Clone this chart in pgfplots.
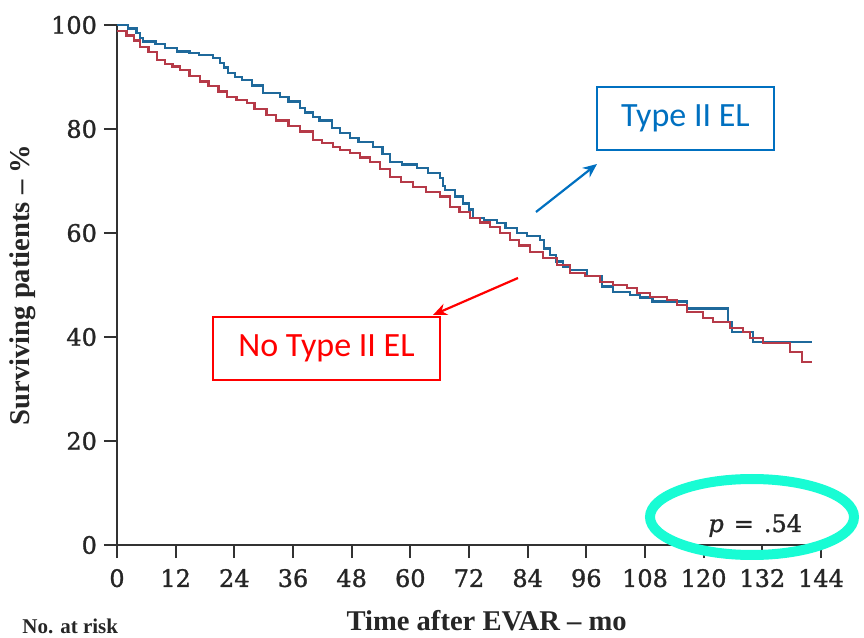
\documentclass[border=0pt]{standalone}
\usepackage{pgfplots}
\pgfplotsset{compat=1.18}
\usetikzlibrary{arrows.meta}
\usepackage{fontspec}
\setmainfont{Liberation Serif}
\newfontfamily\tickfont[FakeBold=1.2]{DejaVu Serif}
\newfontfamily\calibri{Carlito}
\definecolor{kmblue}{RGB}{31,105,155}
\definecolor{kmred}{RGB}{182,58,72}
\definecolor{annblue}{RGB}{0,112,192}
\definecolor{aquaring}{RGB}{24,252,212}
\definecolor{axisgray}{RGB}{50,50,50}

\begin{document}
\begin{tikzpicture}
\begin{axis}[
  scale only axis, width=352pt, height=260pt,
  at={(0pt,0pt)}, anchor=origin,
  xmin=0, xmax=144, ymin=0, ymax=100,
  axis lines=left,
  axis line style={-, line width=0.9pt, color=axisgray},
  xtick={0,12,...,144}, ytick={0,20,...,100},
  tick align=outside, major tick length=6.5pt,
  tick style={line width=0.9pt, color=axisgray},
  ticklabel style={font=\tickfont\fontsize{12}{13}\selectfont, text=black!85},
  xticklabel style={yshift=-2pt},
  /pgf/number format/assume math mode=true,
  xlabel={\bfseries Time after EVAR – mo},
  ylabel={\bfseries Surviving patients – \%},
  label style={font=\fontsize{14.3}{15}\selectfont, text=black!85},
  xlabel style={at={(axis description cs:0.525,0)}, anchor=base, yshift=-42.5pt},
  ylabel style={at={(axis description cs:-0.1335,0.5)}, anchor=center},
  clip=false,
]
% Type II EL
\addplot[const plot, kmblue, line width=1.2pt] coordinates {
(0,100) (2.27,99.3) (3.95,98.5) (4.74,97.5) (5.33,96.8) (7.90,96.3) (9.87,95.6)
(12.24,94.9) (14.81,94.6) (16.78,94.2) (19.64,93.7) (21.03,92.7) (21.91,91.8)
(22.70,90.8) (24.18,90.0) (25.57,89.4) (27.64,88.4) (29.91,86.9) (33.36,86.2)
(35.04,85.3) (37.41,84.0) (38.50,83.2) (40.08,82.3) (41.46,81.6) (43.93,80.2)
(45.60,79.2) (47.68,78.3) (49.36,77.5) (52.32,76.5) (54.29,75.2) (55.87,73.7)
(58.24,73.2) (61.40,72.5) (63.67,71.5) (66.04,70.6) (66.63,69.0) (67.12,68.3)
(69.10,67.0) (70.78,65.7) (72.06,64.5) (72.85,62.9) (75.02,62.5) (77.69,61.9)
(79.46,61.0) (81.83,60.0) (83.90,59.4) (86.47,58.6) (87.36,57.0) (88.54,55.8)
(89.83,54.5) (91.21,53.5) (92.69,52.9) (96.14,51.7) (99.20,49.7) (101.47,48.7)
(104.93,48.1) (107.00,47.6) (109.57,46.8) (116.58,45.5) (124.97,42.9)
(125.76,41.0) (130.10,39.0) (142.14,39.0)
};
% No Type II EL
\addplot[const plot, kmred, line width=1.2pt] coordinates {
(0,98.8) (1.97,98.0) (3.45,97.0) (4.74,95.8) (6.42,94.8) (8.19,93.3) (9.87,92.5)
(11.35,92.0) (12.83,91.3) (14.81,90.2) (16.98,89.1) (18.75,88.3) (20.73,87.2)
(22.51,86.2) (24.48,85.6) (26.55,85.0) (28.13,83.9) (30.60,82.7) (32.57,81.6)
(35.04,80.6) (37.41,79.5) (40.08,77.9) (41.95,77.3) (44.22,76.5) (45.60,76.0)
(47.68,75.4) (49.65,74.5) (51.72,73.7) (53.80,72.3) (55.87,70.8) (58.04,69.8)
(60.51,68.8) (63.17,67.9) (66.04,67.0) (68.11,65.0) (70.08,64.0) (72.16,62.9)
(74.23,62.0) (76.30,61.2) (78.38,60.0) (80.35,58.7) (82.23,57.6) (84.50,56.3)
(87.16,55.2) (90.02,53.8) (92.69,52.3) (95.75,51.7) (98.81,50.6) (101.47,50.0)
(104.34,49.4) (106.31,48.5) (108.98,47.7) (112.53,47.1) (114.50,46.2)
(116.58,44.8) (119.83,43.7) (121.91,42.9) (125.36,41.7) (128.03,41.0)
(129.51,39.8) (132.17,38.8) (137.70,37.1) (140.17,35.2) (142.14,35.2)
};
\end{axis}
% annotations (1 px of the reference = 0.5pt, origin at data (0,0))
\node[draw=annblue, line width=0.7pt, minimum width=88.5pt, minimum height=31.5pt,
      inner sep=0pt, text=annblue, font=\calibri\fontsize{17}{18}\selectfont]
      at (284.25pt,213.25pt) {Type II EL};
\node[draw=red, line width=0.7pt, minimum width=113.5pt, minimum height=31.5pt,
      inner sep=0pt, text=red, font=\calibri\fontsize{17}{18}\selectfont]
      at (104.75pt,98.25pt) {No Type II EL};
\draw[annblue, line width=1.1pt, -{Stealth[length=7pt,width=6pt]}] (209.5pt,166.5pt) -- (240pt,190.5pt);
\draw[red, line width=1.1pt, -{Stealth[length=7pt,width=6pt]}] (200.5pt,133.5pt) -- (158pt,115pt);
\draw[aquaring, line width=5pt] (317.5pt,14pt) ellipse [x radius=51pt, y radius=19pt];
\node[anchor=base west, inner sep=0pt, font=\tickfont\fontsize{12}{13}\selectfont, text=black!85]
      at (295.5pt,6.5pt) {\textit{p}\hspace{5pt}=\hspace{5pt}.54};
\node[anchor=base west, inner sep=0pt, font=\bfseries\fontsize{10.5}{11}\selectfont, text=black!85]
      at (-47.5pt,-44.5pt) {No. at risk};
\pgfresetboundingbox
\path (-58.5pt,-46.5pt) rectangle (373.5pt,272.5pt);
\end{tikzpicture}
\end{document}
